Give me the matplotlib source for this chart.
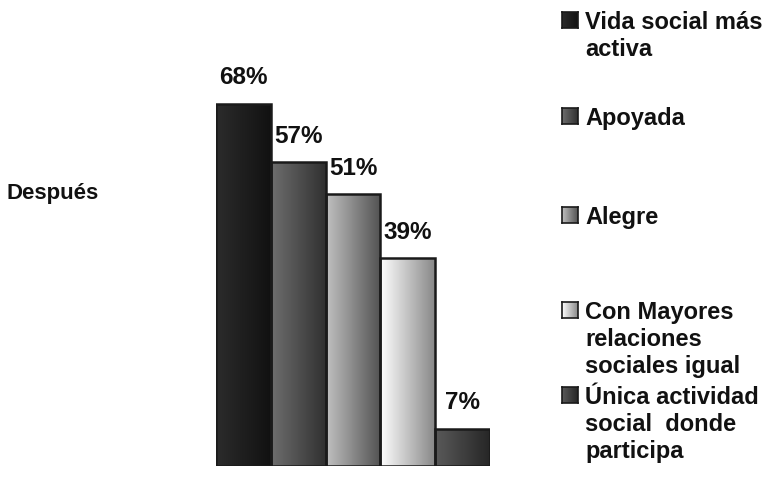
import numpy as np
import matplotlib
matplotlib.use("Agg")
import matplotlib.pyplot as plt
from matplotlib.colors import LinearSegmentedColormap

plt.rcParams['font.family'] = ['Liberation Sans', 'DejaVu Sans']

# Data
categories = ["Vida social más\nactiva", "Apoyada", "Alegre",
              "Con Mayores\nrelaciones\nsociales igual",
              "Única actividad\nsocial  donde\nparticipa"]
values = [68, 57, 51, 39, 7]
value_labels = ["68%", "57%", "51%", "39%", "7%"]
group_label = "Después"

# Horizontal gradient (left colour, right colour) for each series
gradients = [("#2c2c2c", "#111111"),
             ("#6e6e6e", "#303030"),
             ("#c0c0c0", "#525252"),
             ("#ffffff", "#888888"),
             ("#5a5a5a", "#262626")]
edge = "#1a1a1a"

W, H = 772, 484
fig = plt.figure(figsize=(W / 100, H / 100), dpi=100)
ax = fig.add_axes([216 / W, 18 / H, 274 / W, 426 / H])

x = np.arange(len(values))
bars = ax.bar(x, values, width=1.0, facecolor="none", edgecolor=edge,
              linewidth=1.8, zorder=3)

grad = np.linspace(0, 1, 256).reshape(1, -1)
for b, (c0, c1) in zip(bars, gradients):
    cmap = LinearSegmentedColormap.from_list("g", [c0, c1])
    x0, w, h = b.get_x(), b.get_width(), b.get_height()
    im = ax.imshow(grad, cmap=cmap, extent=(x0, x0 + w, 0, h),
                   aspect="auto", zorder=2, interpolation="bilinear")
    im.set_clip_path(b)

for xi, v, lab in zip(x, values, value_labels):
    ax.annotate(lab, (xi, v), xytext=(0, 26), textcoords="offset pixels",
                ha="center", va="center", fontsize=17.5, fontweight="bold",
                color="#111111")

ax.set_xlim(-0.5, len(values) - 0.5)
ax.set_ylim(0, 80)
ax.axis("off")

# Row label on the left
fig.text(7 / W, 1 - 193 / H, group_label, ha="left", va="center",
         fontsize=16, fontweight="bold", color="#111111")

# Legend entries with small gradient squares
entry_y = [20, 116, 215, 310, 395]
for lab, (c0, c1), yc in zip(categories, gradients, entry_y):
    sq = 16
    sax = fig.add_axes([562 / W, 1 - (yc + sq / 2) / H, sq / W, sq / H])
    cmap = LinearSegmentedColormap.from_list("g", [c0, c1])
    sax.imshow(grad, cmap=cmap, aspect="auto", extent=(0, 1, 0, 1))
    sax.set_xticks([])
    sax.set_yticks([])
    for s in sax.spines.values():
        s.set_color(edge)
        s.set_linewidth(1.2)
    fig.text(585 / W, 1 - (yc - 9) / H, lab, ha="left", va="top",
             fontsize=17, fontweight="bold", color="#111111",
             linespacing=1.22)

fig.savefig("out.png", dpi=100, facecolor="white")
